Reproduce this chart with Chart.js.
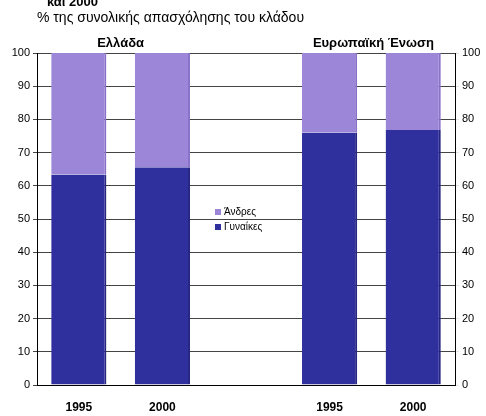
<!DOCTYPE html>
<html>
<head>
<meta charset="utf-8">
<script src="https://cdn.jsdelivr.net/npm/chart.js@4/dist/chart.umd.min.js"></script>
<style>
  html, body { margin: 0; padding: 0; background: #fff; }
  #wrap { width: 486px; height: 416px; position: relative; }
</style>
</head>
<body>
<div id="wrap"><canvas id="c" width="486" height="416"></canvas></div>
<script>
// years per group, empty slot in the middle separates the two groups
var CATEGORIES = ['1995', '2000', '', '1995', '2000'];
var GROUPS = ['Ελλάδα', 'Ευρωπαϊκή Ένωση'];
var WOMEN = [63.4, 65.6, null, 76.0, 76.8];
var MEN = [36.6, 34.4, null, 24.0, 23.2];
var Y_TICKS = [0, 10, 20, 30, 40, 50, 60, 70, 80, 90, 100];

var TITLE = 'και 2000';
var SUBTITLE = '% της συνολικής απασχόλησης του κλάδου';

var DARK = '#2f2f9e';
var LIGHT = '#9c86d8';
var FONT = '"Liberation Sans", Arial, sans-serif';

var overlay = {
    id: 'overlay',
    afterDraw: function (chart) {
        var ctx = chart.ctx;
        var x = chart.scales.x;
        var y = chart.scales.y;
        ctx.save();
        ctx.fillStyle = '#000';

        // title (partly cut at the top) and subtitle
        ctx.textAlign = 'left';
        ctx.textBaseline = 'middle';
        ctx.font = 'bold 13px ' + FONT;
        ctx.fillText(TITLE, 47, 2);
        ctx.font = '14px ' + FONT;
        ctx.fillText(SUBTITLE, 37, 18);

        // group headers
        ctx.font = 'bold 13px ' + FONT;
        ctx.textAlign = 'center';
        var g1 = (x.getPixelForValue(0) + x.getPixelForValue(1)) / 2;
        var g2 = (x.getPixelForValue(3) + x.getPixelForValue(4)) / 2;
        ctx.fillText(GROUPS[0], g1, 43);
        ctx.fillText(GROUPS[1], g2 + 2, 43);

        // legend in the empty middle slot
        var lx = x.getPixelForValue(2) - 31;
        var ly = y.getPixelForValue(50);
        var items = [[chart.data.datasets[1].label, LIGHT], [chart.data.datasets[0].label, DARK]];
        ctx.font = '10px ' + FONT;
        ctx.textAlign = 'left';
        items.forEach(function (it, i) {
            var yy = ly - 7 + i * 15;
            ctx.fillStyle = it[1];
            ctx.fillRect(lx, yy - 3, 6, 6);
            ctx.fillStyle = '#000';
            ctx.fillText(it[0], lx + 9, yy);
        });
        ctx.restore();
    }
};

new Chart(document.getElementById('c').getContext('2d'), {
    type: 'bar',
    data: {
        labels: CATEGORIES,
        datasets: [{
            label: 'Γυναίκες',
            data: WOMEN,
            backgroundColor: DARK,
            borderColor: '#262680',
            borderWidth: { left: 0, right: 2, top: 0, bottom: 0 },
            barPercentage: 0.66,
            categoryPercentage: 1
        }, {
            label: 'Άνδρες',
            data: MEN,
            backgroundColor: LIGHT,
            borderColor: '#8a72c8',
            borderWidth: { left: 0, right: 2, top: 0, bottom: 0 },
            barPercentage: 0.66,
            categoryPercentage: 1
        }]
    },
    plugins: [overlay],
    options: {
        responsive: false,
        animation: false,
        layout: { padding: { top: 53, left: 0, right: 0, bottom: 0 } },
        plugins: {
            legend: { display: false },
            tooltip: { enabled: false }
        },
        scales: {
            x: {
                stacked: true,
                afterFit: function (s) { s.height = 31; },
                grid: { display: false },
                border: { color: '#000', width: 1 },
                ticks: { color: '#000', font: { family: FONT, size: 12, weight: 'bold' }, padding: 7 }
            },
            y: {
                stacked: true,
                position: 'left',
                min: 0, max: 100,
                afterFit: function (s) { s.width = 37; },
                afterBuildTicks: function (s) { s.ticks = Y_TICKS.map(function (v) { return { value: v }; }); },
                grid: { color: '#444', lineWidth: 1, tickLength: 4, drawTicks: true },
                border: { color: '#000', width: 1 },
                ticks: { color: '#000', font: { family: FONT, size: 11 }, padding: 3 }
            },
            y2: {
                position: 'right',
                min: 0, max: 100,
                afterFit: function (s) { s.width = 31; },
                afterBuildTicks: function (s) { s.ticks = Y_TICKS.map(function (v) { return { value: v }; }); },
                grid: { drawOnChartArea: false, tickLength: 4 },
                border: { color: '#000', width: 1 },
                ticks: { color: '#000', font: { family: FONT, size: 11 }, padding: 3 }
            }
        }
    }
});
</script>
</body>
</html>
